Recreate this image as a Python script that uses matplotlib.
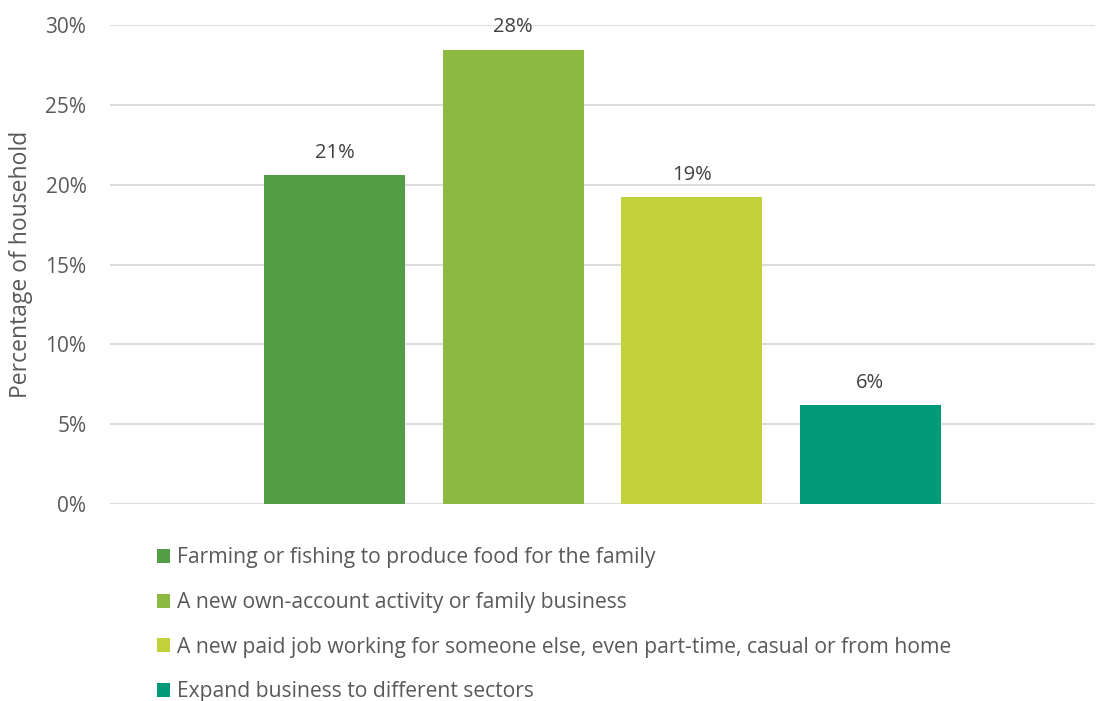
import matplotlib
matplotlib.use("Agg")
import matplotlib.pyplot as plt
from matplotlib.patches import Patch
from matplotlib.ticker import FuncFormatter

plt.rcParams['font.family'] = ['Open Sans', 'DejaVu Sans']

categories = [
    "Farming or fishing to produce food for the family",
    "A new own-account activity or family business",
    "A new paid job working for someone else, even part-time, casual or from home",
    "Expand business to different sectors",
]
values = [20.6, 28.45, 19.2, 6.2]
colors = ["#529D45", "#8CB942", "#C2D13A", "#009A78"]
yticks = [0, 5, 10, 15, 20, 25, 30]

fig = plt.figure(figsize=(10.96, 7.01), dpi=100)
ax = fig.add_axes([0.1004, 0.281, 0.8987, 0.6833])

positions = [-1.5, -0.5, 0.5, 1.5]
bars = ax.bar(positions, values, width=0.79, color=colors, zorder=3)

for b, v in zip(bars, values):
    ax.annotate(f"{round(v)}%", (b.get_x() + b.get_width() / 2, v),
                xytext=(0, 9), textcoords="offset points",
                ha="center", va="bottom", fontsize=14.5, color="#404040")

ax.set_xlim(-2.76, 2.76)
ax.set_ylim(0, 30)
ax.set_yticks(yticks)
ax.yaxis.set_major_formatter(FuncFormatter(lambda y, _: f"{y:.0f}%"))
ax.set_xticks([])
ax.grid(axis="y", color="#D9D9D9", linewidth=1.3, zorder=0)
for s in ax.spines.values():
    s.set_visible(False)
ax.tick_params(axis="y", length=0, pad=17, labelsize=15, labelcolor="#595959")
ax.set_ylabel("Percentage of household", fontsize=16.5, color="#595959", labelpad=9)

handles = [Patch(facecolor=c, edgecolor="none") for c in colors]
fig.legend(handles, categories, loc="upper left", bbox_to_anchor=(0.143, 0.219),
           frameon=False, fontsize=15.2, labelcolor="#595959",
           handlelength=0.65, handleheight=0.65, handletextpad=0.3,
           labelspacing=1.12, borderaxespad=0, borderpad=0)

fig.savefig("out.png", dpi=100)
